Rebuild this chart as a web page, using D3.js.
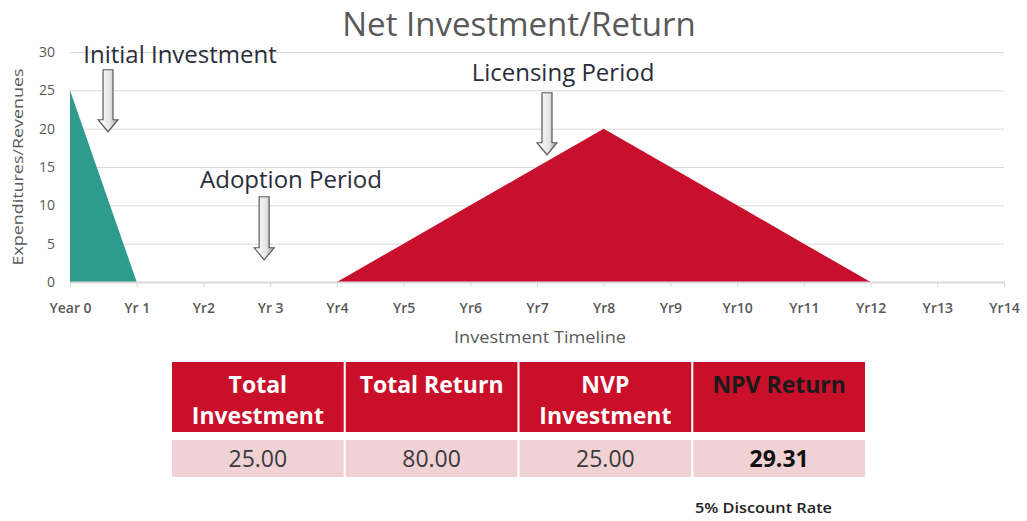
<!DOCTYPE html>
<html>
<head>
<meta charset="utf-8">
<script src="https://d3js.org/d3.v7.min.js"></script>
<title>Net Investment/Return</title>
<style>
body {
  margin: 0;
  padding: 0;
  background: #fff;
}
svg text {
  font-family: "Open Sans", "Noto Sans", sans-serif;
}
.grid line { stroke: #d9d9d9; }
.grid path { display: none; }
.ylab text { fill: #595959; font-size: 14px; }
.xaxis text { fill: #595959; font-size: 14px; font-weight: 600; }
.xaxis line, .xaxis path { stroke: #d9d9d9; }
</style>
</head>
<body>
<svg id="chart" width="1027" height="521"></svg>
<script>

// chart data
var years = ["Year 0", "Yr 1", "Yr2", "Yr 3", "Yr4", "Yr5", "Yr6", "Yr7", "Yr8", "Yr9", "Yr10", "Yr11", "Yr12", "Yr13", "Yr14"];
var investment = [25, 0];                                     // Year 0 .. Yr 1
var returns = [0, 5, 10, 15, 20, 15, 10, 5, 0];                // Yr4 .. Yr12
var returnsStart = 4;
var yTicks = [0, 5, 10, 15, 20, 25, 30];

// notes on the chart: x, y in data units (arrow tip)
var notes = [
  {label: "Initial Investment", x: 0.57, y: 19.6, len: 62, tx: 180, ty: 63},
  {label: "Adoption Period", x: 2.91, y: 2.9, len: 63, tx: 291, ty: 188},
  {label: "Licensing Period", x: 7.15, y: 16.6, len: 62, tx: 563, ty: 81}
];

// table below
var tableHeads = [["Total", "Investment"], ["Total Return"], ["NVP", "Investment"], ["NPV Return"]];
var tableValues = ["25.00", "80.00", "25.00", "29.31"];
var footnote = "5% Discount Rate";

var svg = d3.select("#chart");

var x = d3.scaleLinear().domain([0, 14]).range([70, 1004]);
var y = d3.scaleLinear().domain([0, 30]).range([282, 52]);

// title
svg.append("text")
  .attr("x", 519).attr("y", 36)
  .attr("text-anchor", "middle")
  .style("font-size", "33px")
  .style("font-weight", 400)
  .style("fill", "#595959")
  .text("Net Investment/Return");

// grid
svg.append("g")
  .attr("class", "grid")
  .attr("transform", "translate(70,0)")
  .call(d3.axisLeft(y).tickValues(yTicks).tickSize(-934).tickFormat(""));

svg.append("g")
  .attr("class", "ylab")
  .attr("transform", "translate(70,0)")
  .call(d3.axisLeft(y).tickValues(yTicks).tickSize(0).tickPadding(15))
  .call(function(g) { g.select(".domain").remove(); });

// areas
var area = d3.area()
  .x(function(d) { return x(d.i); })
  .y0(y(0))
  .y1(function(d) { return y(d.v); });

svg.append("path")
  .datum(investment.map(function(v, i) { return {i: i, v: v}; }))
  .attr("d", area)
  .attr("fill", "#2f9a8e");

svg.append("path")
  .datum(returns.map(function(v, i) { return {i: i + returnsStart, v: v}; }))
  .attr("d", area)
  .attr("fill", "#c8102e");

// x axis
svg.append("g")
  .attr("class", "xaxis")
  .attr("transform", "translate(0," + y(0) + ")")
  .call(d3.axisBottom(x)
    .tickValues(d3.range(years.length))
    .tickFormat(function(i) { return years[i]; })
    .tickSize(5).tickSizeOuter(0).tickPadding(16));

svg.select(".xaxis .domain").attr("stroke-width", 2);

svg.append("text")
  .attr("x", 540).attr("y", 343)
  .attr("text-anchor", "middle")
  .attr("textLength", 172)
  .attr("lengthAdjust", "spacingAndGlyphs")
  .style("font-size", "16px")
  .style("fill", "#595959")
  .text("Investment Timeline");

svg.append("text")
  .attr("transform", "translate(23,167) rotate(-90)")
  .attr("text-anchor", "middle")
  .attr("textLength", 197)
  .attr("lengthAdjust", "spacingAndGlyphs")
  .style("font-size", "15px")
  .style("fill", "#595959")
  .text("Expenditures/Revenues");

// arrows
var defs = svg.append("defs");
var grad = defs.append("linearGradient").attr("id", "arrowFill")
  .attr("x1", "0").attr("x2", "1").attr("y1", "0").attr("y2", "0");
grad.append("stop").attr("offset", "0").attr("stop-color", "#ffffff");
grad.append("stop").attr("offset", "0.6").attr("stop-color", "#e6e6e6");
grad.append("stop").attr("offset", "1").attr("stop-color", "#9a9a9a");

function arrowPath(len) {
  var sw = 5, hw = 10, hh = 12;
  return "M" + (-sw) + "," + (-len) + "L" + sw + "," + (-len) + "L" + sw + "," + (-hh) +
    "L" + hw + "," + (-hh) + "L0,0L" + (-hw) + "," + (-hh) + "L" + (-sw) + "," + (-hh) + "Z";
}

var note = svg.selectAll(".note").data(notes).enter().append("g").attr("class", "note");

note.append("path")
  .attr("transform", function(d) { return "translate(" + x(d.x) + "," + y(d.y) + ")"; })
  .attr("d", function(d) { return arrowPath(d.len); })
  .attr("fill", "url(#arrowFill)")
  .attr("stroke", "#5a5a5a")
  .attr("stroke-width", 1.2);

note.append("text")
  .attr("x", function(d) { return d.tx; })
  .attr("y", function(d) { return d.ty; })
  .attr("text-anchor", "middle")
  .style("font-size", "24px")
  .style("fill", "#2b2d3a")
  .text(function(d) { return d.label; });

// table
var col = d3.scaleBand().domain(d3.range(tableHeads.length)).range([172, 865]).paddingInner(0.012);

var cell = svg.selectAll(".col").data(tableHeads).enter().append("g").attr("class", "col")
  .attr("transform", function(d, i) { return "translate(" + col(i) + ",0)"; });

cell.append("rect")
  .attr("y", 362).attr("width", col.bandwidth()).attr("height", 70)
  .attr("fill", "#c90f29");

cell.append("rect")
  .attr("y", 440).attr("width", col.bandwidth()).attr("height", 37)
  .attr("fill", "#f0d2d5");

cell.append("text")
  .attr("text-anchor", "middle")
  .attr("x", col.bandwidth() / 2)
  .style("font-size", "23px")
  .style("font-weight", 700)
  .style("fill", function(d, i) { return i === 3 ? "#1a1a1a" : "#ffffff"; })
  .selectAll("tspan").data(function(d) { return d; }).enter().append("tspan")
    .attr("x", col.bandwidth() / 2)
    .attr("y", function(d, j) { return 393 + j * 31; })
    .text(function(d) { return d; });

cell.append("text")
  .attr("text-anchor", "middle")
  .attr("x", col.bandwidth() / 2)
  .attr("y", 467)
  .style("font-size", "23px")
  .style("font-weight", function(d, i) { return i === 3 ? 700 : 400; })
  .style("fill", function(d, i) { return i === 3 ? "#111" : "#3a3a3a"; })
  .text(function(d, i) { return tableValues[i]; });

svg.append("text")
  .attr("x", 695).attr("y", 513)
  .attr("textLength", 137)
  .attr("lengthAdjust", "spacingAndGlyphs")
  .style("font-size", "14px")
  .style("font-weight", 600)
  .style("fill", "#222")
  .text(footnote);

</script>
</body>
</html>
